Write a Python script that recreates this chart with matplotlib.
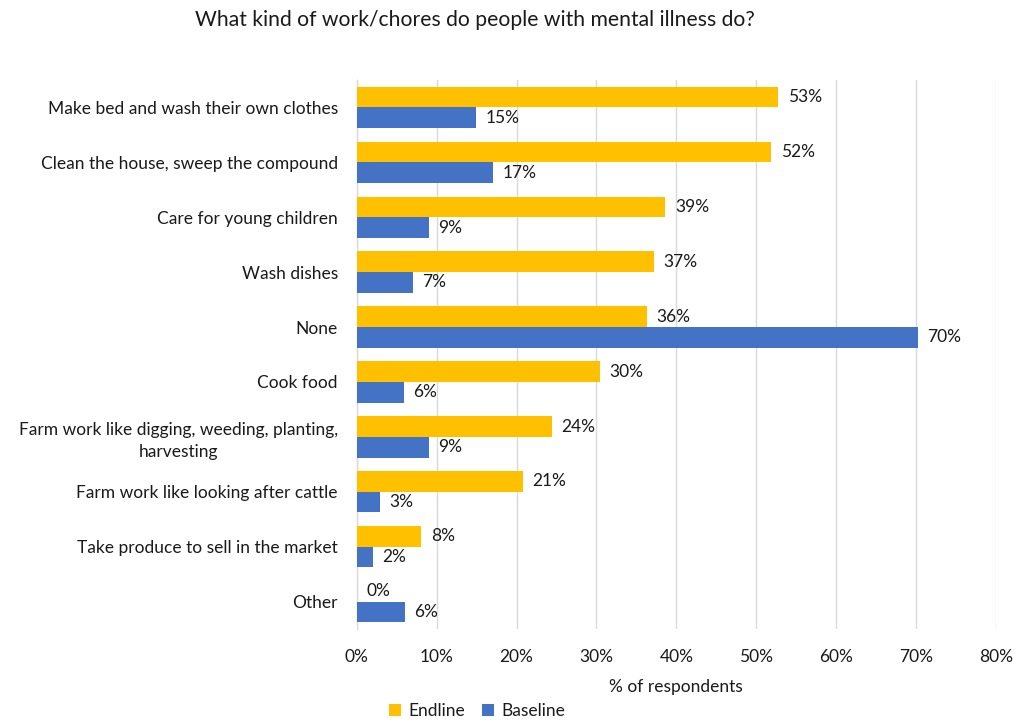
import matplotlib
matplotlib.use("Agg")
import matplotlib.pyplot as plt
import numpy as np

categories = [
    "Make bed and wash their own clothes",
    "Clean the house, sweep the compound",
    "Care for young children",
    "Wash dishes",
    "None",
    "Cook food",
    "Farm work like digging, weeding, planting,\nharvesting",
    "Farm work like looking after cattle",
    "Take produce to sell in the market",
    "Other",
]
endline = [52.7, 51.9, 38.6, 37.2, 36.3, 30.4, 24.4, 20.8, 8.1, 0.0]
baseline = [14.9, 17.1, 9.0, 7.0, 70.2, 5.9, 9.0, 2.9, 2.0, 6.0]
xticks = [0, 10, 20, 30, 40, 50, 60, 70, 80]

plt.rcParams["font.family"] = ["Lato", "DejaVu Sans"]

YELLOW = "#FFC000"
BLUE = "#4472C4"
TEXT = "#1a1a1a"
FS = 12.5

fig = plt.figure(figsize=(10.14, 7.22), dpi=100)
ax = fig.add_axes([0.3518, 0.1288, 0.6304, 0.7604])

y = np.arange(len(categories))
h = 0.377
b1 = ax.barh(y - h / 2, endline, height=h, color=YELLOW, label="Endline", zorder=3)
b2 = ax.barh(y + h / 2, baseline, height=h, color=BLUE, label="Baseline", zorder=3)

for bars, vals in ((b1, endline), (b2, baseline)):
    for rect, v in zip(bars, vals):
        ax.annotate(f"{v:.0f}%", (rect.get_width(), rect.get_y() + rect.get_height() / 2),
                    xytext=(7.0, 0), textcoords="offset points",
                    va="center", ha="left", fontsize=FS, color=TEXT)

ax.set_ylim(len(categories) - 0.5, -0.5)
ax.set_xlim(0, 80)
ax.set_yticks(y)
ax.set_yticklabels(categories, fontsize=FS, color=TEXT)
for lab in ax.get_yticklabels():
    lab.set_multialignment("center")
    lab.set_linespacing(1.45)
ax.set_xticks(xticks)
ax.set_xticklabels([f"{t}%" for t in xticks], fontsize=FS, color=TEXT)

ax.tick_params(axis="both", length=0)
ax.tick_params(axis="y", pad=13.5)
ax.tick_params(axis="x", pad=14.5)
ax.xaxis.grid(True, color="#d9d9d9", linewidth=1, zorder=0)
ax.set_axisbelow(True)
for s in ("top", "right", "bottom"):
    ax.spines[s].set_visible(False)
ax.spines["left"].set_color("#d9d9d9")
ax.spines["left"].set_linewidth(1)

ax.set_xlabel("% of respondents", fontsize=FS, color=TEXT, labelpad=10)

fig.text(475 / 1014, 1 - 20 / 722, "What kind of work/chores do people with mental illness do?",
         ha="center", va="center", fontsize=15.2, color=TEXT)

fig.legend(handles=[b1, b2], labels=["Endline", "Baseline"], loc="center",
           bbox_to_anchor=(477 / 1014, 1 - 711 / 722), ncol=2, frameon=False,
           fontsize=FS, handlelength=0.7, handleheight=0.7, handletextpad=0.4,
           columnspacing=1.0, labelcolor=TEXT)

fig.savefig("out.png", dpi=100)
